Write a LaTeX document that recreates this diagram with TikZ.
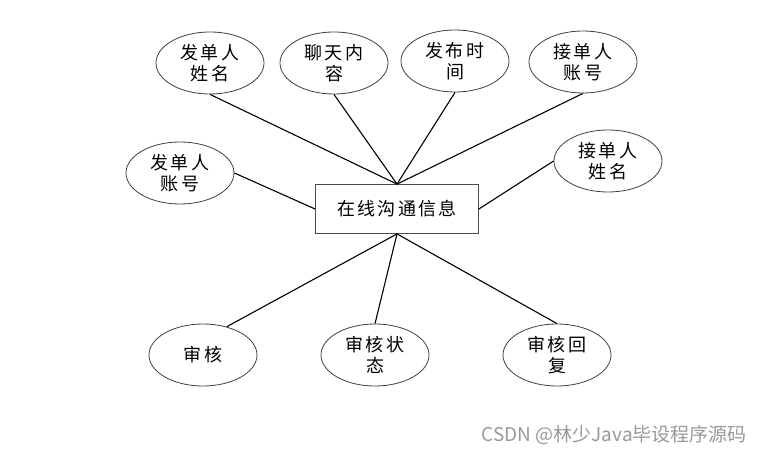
\documentclass[tikz,border=0pt]{standalone}
\usepackage{fontspec}
\usetikzlibrary{shapes.geometric}
\newfontfamily\cjk[LetterSpace=12]{Noto Sans CJK SC}
\newfontfamily\wmfont{Noto Sans CJK SC}
\begin{document}
\begin{tikzpicture}[x=1pt,y=-1pt,
  attr/.style={ellipse,draw=black!75,line width=0.8pt,minimum width=108pt,minimum height=62pt,inner sep=0pt,align=center,font=\cjk\fontsize{18}{21}\selectfont},
  ent/.style={rectangle,draw=black!70,line width=0.8pt,minimum width=163pt,minimum height=49pt,inner sep=0pt,font=\cjk\fontsize{18}{21}\selectfont},
  conn/.style={line width=1.1pt,black}]
\useasboundingbox (0,0) rectangle (762,454);
\node[ent] (r) at (397,209) {在线沟通信息};
\node[attr] (a1) at (210,63) {发单人\\姓名};
\node[attr] (a2) at (334,63) {聊天内\\容};
\node[attr] (a3) at (455,61) {发布时\\间};
\node[attr] (a4) at (583,62) {接单人\\账号};
\node[attr] (a5) at (180,173) {发单人\\账号};
\node[attr] (a6) at (608,161) {接单人\\姓名};
\node[attr] (b1) at (203,355) {审核};
\node[attr] (b2) at (375,355) {审核状\\态};
\node[attr] (b3) at (557,355) {审核回\\复};
\draw[conn] (a1.south) -- (r.north);
\draw[conn] (a2.south) -- (r.north);
\draw[conn] (a3.south) -- (r.north);
\draw[conn] (a4.south) -- (r.north);
\draw[conn] (a5.east) -- (r.west);
\draw[conn] (r.east) -- (a6.west);
\draw[conn] (r.south) -- (b1.50);
\draw[conn] (r.south) -- (b2.north);
\draw[conn] (r.south) -- (b3.north);
\node[font=\wmfont\fontsize{19}{21}\selectfont,text=black!40,anchor=east,inner sep=0pt] (wm) at (747,435) {CSDN @林少Java毕设程序源码};
\end{tikzpicture}
\end{document}
